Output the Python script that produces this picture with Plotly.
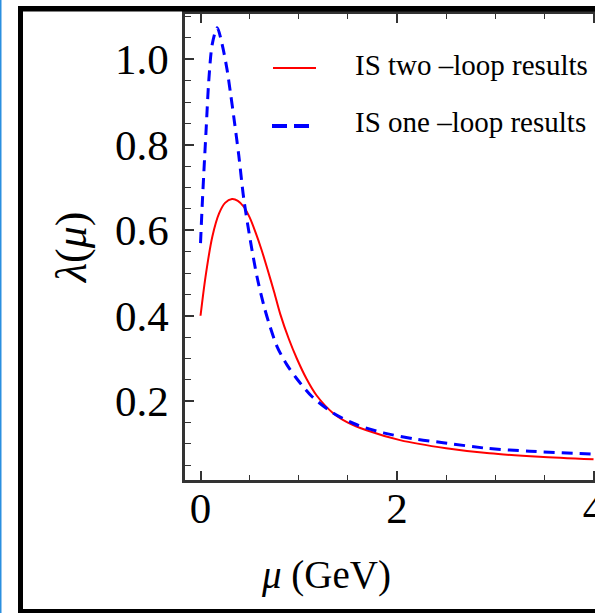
import plotly.graph_objects as go

# Running coupling lambda(mu) from the IS scheme, two-loop vs one-loop
mu_two = [0.0, 0.05, 0.12, 0.19, 0.25, 0.32, 0.38, 0.44, 0.50, 0.56, 0.62, 0.68,
          0.75, 0.81, 0.90, 0.98, 1.08, 1.18, 1.35, 1.50, 1.69, 2.03, 2.50, 2.94,
          3.45, 4.0]
lam_two = [0.400, 0.490, 0.585, 0.640, 0.664, 0.673, 0.669, 0.655, 0.630, 0.595,
           0.555, 0.510, 0.455, 0.405, 0.345, 0.300, 0.252, 0.214, 0.172, 0.150,
           0.132, 0.109, 0.090, 0.078, 0.070, 0.064]

mu_one = [0.0, 0.017, 0.034, 0.058, 0.084, 0.119, 0.17, 0.22, 0.27, 0.305, 0.338,
          0.389, 0.44, 0.508, 0.576, 0.643, 0.70, 0.779, 0.88, 0.982, 1.134, 1.353,
          1.591, 1.861, 2.2, 2.47, 2.91, 3.35, 4.0]
lam_one = [0.570, 0.658, 0.736, 0.840, 0.950, 1.035, 1.074, 1.035, 0.976, 0.921,
           0.866, 0.776, 0.674, 0.575, 0.490, 0.425, 0.380, 0.328, 0.285, 0.252,
           0.211, 0.172, 0.145, 0.126, 0.111, 0.103, 0.090, 0.083, 0.076]

series_names = ["IS two \u2013loop results", "IS one \u2013loop results"]
x_ticks = [0, 2, 4]
y_ticks = [0.2, 0.4, 0.6, 0.8, 1.0]

W, H = 595, 613
L, R, T, B = 185, 0, 14, 133
FONT = "Liberation Serif, Times New Roman, Times, serif"
AX = "#333333"
RED, BLUE = "#ff0000", "#0000ff"
BLUE_DASH = "11px,7px"


def px_x(px):
    return (px - L) / (W - L - R)


def px_y(py):
    return (H - B - py) / (H - T - B)


fig = go.Figure()
fig.add_trace(go.Scatter(
    x=mu_two, y=lam_two, mode="lines", name=series_names[0], showlegend=False,
    line=dict(color=RED, width=2, shape="spline", smoothing=0.8),
))
fig.add_trace(go.Scatter(
    x=mu_one, y=lam_one, mode="lines", name=series_names[1], showlegend=False,
    line=dict(color=BLUE, width=3, dash=BLUE_DASH, shape="spline", smoothing=0.8),
))

fig.update_xaxes(
    range=[-0.158, 4.015], tickvals=x_ticks, ticktext=[str(v) for v in x_ticks],
    ticks="inside", ticklen=9, tickwidth=1.5, tickcolor=AX,
    showline=True, linecolor=AX, linewidth=2.5, mirror="ticks",
    showgrid=False, zeroline=False, automargin=False, ticklabeloverflow="allow",
    tickfont=dict(family=FONT, size=43, color="black"), ticklabelstandoff=-11,
    minor=dict(dtick=0.5, tick0=0, ticks="inside", ticklen=5, tickwidth=1.2,
               tickcolor=AX, showgrid=False),
)
fig.update_yaxes(
    range=[0.0157, 1.106], tickvals=y_ticks, ticktext=[f"{v:.1f}" for v in y_ticks],
    ticks="inside", ticklen=9, tickwidth=1.5, tickcolor=AX,
    showline=True, linecolor=AX, linewidth=2.5, mirror=False,
    showgrid=False, zeroline=False, automargin=False,
    tickfont=dict(family=FONT, size=43, color="black"), ticklabelstandoff=5,
    minor=dict(dtick=0.05, tick0=0, ticks="inside", ticklen=6, tickwidth=1.2,
               tickcolor=AX, showgrid=False),
)

# outer frame and left accent line
shapes = [
    dict(type="rect", xref="paper", yref="paper", x0=px_x(0), x1=px_x(1.5),
         y0=px_y(613), y1=px_y(0), fillcolor="#2b8fe0", line_width=0),
    dict(type="rect", xref="paper", yref="paper", x0=px_x(18), x1=px_x(23),
         y0=px_y(613), y1=px_y(6), fillcolor="black", line_width=0),
    dict(type="rect", xref="paper", yref="paper", x0=px_x(18), x1=px_x(595),
         y0=px_y(11.5), y1=px_y(6), fillcolor="black", line_width=0),
    dict(type="rect", xref="paper", yref="paper", x0=px_x(18), x1=px_x(595),
         y0=px_y(613), y1=px_y(609), fillcolor="black", line_width=0),
    # legend keys
    dict(type="line", xref="paper", yref="paper", x0=px_x(273), x1=px_x(316),
         y0=px_y(68), y1=px_y(68), line=dict(color=RED, width=2)),
    dict(type="line", xref="paper", yref="paper", x0=px_x(272), x1=px_x(309),
         y0=px_y(126), y1=px_y(126), line=dict(color=BLUE, width=4, dash="15px,7px")),
]

annotations = [
    dict(text="<i>\u03bb</i>(<i>\u03bc</i>)", xref="paper", yref="paper",
         x=px_x(72), y=px_y(248), xanchor="center", yanchor="middle",
         textangle=-90, showarrow=False, font=dict(family=FONT, size=44, color="black")),
    dict(text="<i>\u03bc</i> (GeV)", xref="paper", yref="paper",
         x=px_x(326), y=px_y(575), xanchor="center", yanchor="middle",
         showarrow=False, font=dict(family=FONT, size=39, color="black")),
]
for name, yc in zip(series_names, [65, 122]):
    annotations.append(dict(
        text=name, xref="paper", yref="paper", x=px_x(353), y=px_y(yc),
        xanchor="left", yanchor="middle", showarrow=False,
        font=dict(family=FONT, size=29, color="black"),
    ))

fig.update_layout(
    width=W, height=H, margin=dict(l=L, r=R, t=T, b=B, pad=0, autoexpand=False),
    paper_bgcolor="white", plot_bgcolor="white",
    shapes=shapes, annotations=annotations, showlegend=False,
)

fig.write_html("out.html")
